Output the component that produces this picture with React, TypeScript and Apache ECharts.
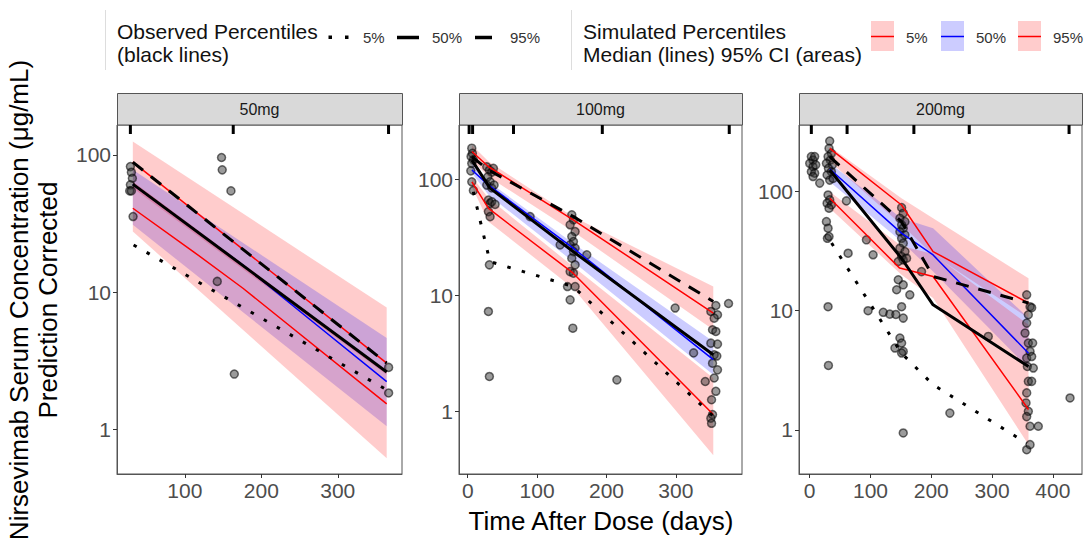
import React, { useEffect, useRef } from 'react';
import * as echarts from 'echarts';

type P = [number, number];
type B = [number, number, number]; // [time, lower, upper]

const panelNames = ['50mg', '100mg', '200mg'];
const xTickLabels: number[][] = [[100, 200, 300], [0, 100, 200, 300], [0, 100, 200, 300, 400]];
const yTickLabels = [1, 10, 100];

// ---------- 50 mg ----------
const obs50: P[] = [[28.8, 82.2], [30.1, 74.8], [31.4, 67.6], [28.8, 60.5], [27.9, 54.7], [30.1, 54.7], [32.3, 35.6],
  [148, 95.7], [148.9, 77.8], [160.3, 54.7], [142.4, 12.0], [164.7, 2.54], [366.5, 2.84], [366.5, 1.85]];
const obsP05_50: P[] = [[33, 22.1], [364, 1.95]];
const obsP50_50: P[] = [[32, 61.3], [364, 2.63]];
const obsP95_50: P[] = [[32, 88.5], [364, 3.05]];
const simP05_50: P[] = [[32, 40.9], [111, 19.8], [176, 10.7], [364, 1.54]];
const simP50_50: P[] = [[32, 61], [176, 15.8], [264, 6.31], [364, 2.24]];
const simP95_50: P[] = [[32, 88.5], [364, 3.05]];
const ci05_50: B[] = [[32, 27.7, 64], [364, 0.62, 2.66]];
const ci50_50: B[] = [[32, 31, 77.8], [364, 1.06, 4.65]];
const ci95_50: B[] = [[32, 57.3, 125], [364, 2.51, 7.74]];
const bins50 = [28.8, 163.3, 366.4];

// ---------- 100 mg ----------
const obs100: P[] = [
  [5.8, 185], [6.7, 167], [4.8, 157], [8.1, 147], [5.8, 137], [4.4, 118], [5.8, 95], [8.1, 80],
  [27.4, 128], [31.2, 120], [34.6, 115], [37, 124], [28.9, 105], [32.2, 95], [27.4, 89], [34.6, 84], [38, 89],
  [29.8, 66], [32.2, 62], [34.6, 64], [29.8, 52.6], [32.2, 47.6], [39.4, 60.7], [31.2, 18.3], [29.8, 7.26], [31.2, 2.0],
  [89.9, 47.6], [133.2, 27.2],
  [150, 49.3], [152.4, 44.7], [147.6, 40.5], [154.8, 35.4], [150, 32.1], [152.4, 29.0], [147.6, 27.2], [154.8, 25.5],
  [152.4, 23.8], [150, 20.9], [154.8, 18.3], [147.6, 16.0], [152.4, 15.5], [143.8, 11.9], [154.8, 11.9], [147.6, 9.14],
  [151.5, 5.21], [171.6, 22.3],
  [215, 1.87], [299, 7.77], [325.6, 3.19], [342.4, 1.81], [376, 8.5],
  [357.7, 8.17], [350.5, 7.26], [360.1, 6.79], [355.3, 6.36], [352.9, 5.05], [357.7, 4.88], [350.5, 3.87], [360.1, 3.8],
  [355.3, 3.07], [359.1, 3.0], [352.9, 2.6], [360.1, 2.28], [355.3, 1.94], [357.7, 1.49], [351.5, 1.26], [352.9, 0.94],
  [350.5, 0.875], [351.5, 0.79]];
const obsP05_100: P[] = [[8, 78], [32, 19.5], [152, 11.9], [354, 0.91]];
const obsP50_100: P[] = [[6, 146], [32, 83.7], [152, 23.8], [354, 3.08]];
const obsP95_100: P[] = [[6, 156], [30, 120], [152, 47.7], [354, 8.85]];
const simP05_100: P[] = [[6, 95], [30, 56], [152, 15.5], [354, 0.94]];
const simP50_100: P[] = [[6, 120], [30, 89], [152, 25.5], [354, 2.79]];
const simP95_100: P[] = [[6, 173], [30, 128], [152, 44.7], [354, 7.03]];
const ci05_100: B[] = [[6, 86, 105], [30, 43.1, 68.6], [152, 11.5, 17.7], [354, 0.42, 1.94]];
const ci50_100: B[] = [[6, 113, 137], [30, 73, 95], [152, 19.5, 28.1], [354, 2.07, 4.0]];
const ci95_100: B[] = [[6, 147, 197], [30, 105, 142], [152, 35.4, 47.6], [354, 5.05, 11.9]];
const bins100 = [2, 7, 66, 194, 377];

// ---------- 200 mg ----------
const obs200: P[] = [
  [2.7, 197], [5.5, 184], [8.2, 197], [0, 173], [5.5, 162], [9.9, 168], [2.7, 147], [8.2, 143], [5.5, 134], [16.5, 118],
  [32.9, 266], [31.8, 231], [35.7, 210], [30.2, 197], [34, 184], [27.5, 173], [37.3, 168], [30.8, 157], [35.7, 147],
  [28.6, 138], [32.9, 125], [38.4, 129], [30.2, 93.8], [32.9, 85.3], [28.6, 80], [35.7, 77.3], [31.8, 72.6], [27.5, 56],
  [30.2, 49.3], [29.1, 40.6], [31.8, 42], [30.2, 10.8], [30.8, 3.47],
  [60.4, 83.6], [63.2, 30.4], [93.3, 39.4], [104.3, 29.5], [96, 10], [121, 9.7], [131.8, 9.36], [141.7, 9.3], [153.9, 8.67],
  [151.2, 73.4], [153.9, 65.9], [148.4, 59.8], [156.7, 56], [151.2, 52.6], [153.9, 49.3], [148.4, 46.1], [156.7, 43.3],
  [151.2, 40.6], [153.9, 36.9], [148.4, 33.5], [156.7, 31.4], [151.2, 28.5], [153.9, 26.7], [145.7, 25.9], [159.4, 27.6],
  [145.7, 18.2], [143, 15.0], [153.9, 16.5], [164.7, 13.6], [151.2, 10.8], [148.4, 5.89], [140.2, 4.86], [151.2, 5.35],
  [153.9, 4.55], [151.2, 4.41], [153.9, 0.94],
  [184, 21.3], [230.6, 1.38], [293.8, 6.08], [428.3, 1.85],
  [357, 13.6], [362.5, 10.8], [365.2, 10.6], [359.7, 9.25], [357, 7.87], [354.3, 6.49], [359.7, 5.35], [366.8, 5.35],
  [362.5, 4.55], [357, 4.0], [365.2, 4.12], [358.1, 3.4], [367.9, 3.3], [359.7, 2.55], [365.2, 2.55], [357, 2.04],
  [355.9, 1.68], [359.7, 1.43], [357, 1.29], [362.5, 1.07], [376.1, 1.07], [357, 0.68], [362.5, 0.75]];
const obsP05_200: P[] = [[36, 37], [151, 4.4], [203, 2.39], [357, 0.77]];
const obsP50_200: P[] = [[33, 152], [151, 27.6], [203, 11.2], [360, 3.4]];
const obsP95_200: P[] = [[33, 197], [151, 56], [203, 19.4], [360, 11.6]];
const simP05_200: P[] = [[33, 88], [148, 22.8], [203, 19.4], [360, 1.48]];
const simP50_200: P[] = [[33, 155], [151, 44.8], [203, 29.4], [360, 4.4]];
const simP95_200: P[] = [[33, 231], [151, 77.3], [203, 31.4], [360, 11.6]];
const ci05_200: B[] = [[33, 72.6, 100], [151, 20, 35], [203, 12.8, 30], [360, 0.75, 7.62]];
const ci50_200: B[] = [[33, 121, 173], [151, 38.1, 59.8], [203, 21.3, 49.3], [360, 3.3, 8.67]];
const ci95_200: B[] = [[33, 179, 239], [151, 52.6, 88], [203, 29.5, 59.8], [360, 8.67, 18.7]];
const bins200 = [2.7, 61.5, 171.4, 262.5, 426.7];

const panels = [
  { obs: obs50, p05: obsP05_50, p50: obsP50_50, p95: obsP95_50, s05: simP05_50, s50: simP50_50, s95: simP95_50, c05: ci05_50, c50: ci50_50, c95: ci95_50, bins: bins50 },
  { obs: obs100, p05: obsP05_100, p50: obsP50_100, p95: obsP95_100, s05: simP05_100, s50: simP50_100, s95: simP95_100, c05: ci05_100, c50: ci50_100, c95: ci95_100, bins: bins100 },
  { obs: obs200, p05: obsP05_200, p50: obsP50_200, p95: obsP95_200, s05: simP05_200, s50: simP50_200, s95: simP95_200, c05: ci05_200, c50: ci50_200, c95: ci95_200, bins: bins200 },
];

// layout
const gridLeft = [117, 459, 799];
const gridWidth = [285, 283, 283];
const gridTop = 125;
const gridHeight = 349;
const xMin = [11.3, -12.6, -17.6];
const xMax = [384, 395.4, 448];
const yMin = [0.476, 0.289, 0.425];
const yMax = [165, 293, 363];

const FONT = 'Liberation Sans, Arial, Helvetica, sans-serif';
const RED = '#ff0000';
const BLUE = '#0000ff';
const PINK_FILL = 'rgba(255,0,0,0.2)';
const BLUE_FILL = 'rgba(0,0,255,0.2)';

function bandSeries(i: number, band: B[], fill: string) {
  return {
    type: 'custom',
    xAxisIndex: i,
    yAxisIndex: i,
    silent: true,
    z: 1,
    data: band,
    encode: { x: 0, y: [1, 2] },
    renderItem: (params: any, api: any) => {
      if (params.dataIndex !== 0) return null;
      const up = band.map((d) => api.coord([d[0], d[2]]));
      const lo = band.map((d) => api.coord([d[0], d[1]])).reverse();
      return { type: 'polygon', shape: { points: up.concat(lo) }, style: { fill } };
    },
  };
}

function lineSeries(i: number, data: P[], color: string, width: number, type: any, z: number) {
  return {
    type: 'line',
    xAxisIndex: i,
    yAxisIndex: i,
    data,
    symbol: 'none',
    silent: true,
    z,
    lineStyle: { color, width, type, cap: 'butt' },
  };
}

export default function App() {
  const ref = useRef<HTMLDivElement>(null);
  useEffect(() => {
    if (!ref.current) return;
    const chart = echarts.init(ref.current, undefined, { renderer: 'svg' });

    const grids: any[] = [];
    const xAxes: any[] = [];
    const yAxes: any[] = [];
    const series: any[] = [];
    const graphics: any[] = [];

    panels.forEach((p, i) => {
      grids.push({
        left: gridLeft[i], top: gridTop, width: gridWidth[i], height: gridHeight,
        show: true, borderColor: '#555', borderWidth: 1, backgroundColor: '#fff', containLabel: false,
      });
      xAxes.push({
        type: 'value', gridIndex: i, min: xMin[i], max: xMax[i],
        splitLine: { show: false },
        axisLine: { show: true, onZero: false, lineStyle: { color: '#555', width: 1 } },
        axisTick: { show: true, length: 4, lineStyle: { color: '#333', width: 1 }, customValues: xTickLabels[i] },
        axisLabel: { customValues: xTickLabels[i], fontSize: 21, color: '#4d4d4d', margin: 6, fontFamily: FONT },
      });
      yAxes.push({
        type: 'log', logBase: 10, gridIndex: i, min: yMin[i], max: yMax[i],
        splitLine: { show: false },
        minorTick: { show: false },
        axisLine: { show: true, onZero: false, lineStyle: { color: '#555', width: 1 } },
        axisTick: { show: true, length: 4, lineStyle: { color: '#333', width: 1 }, customValues: yTickLabels },
        axisLabel: {
          customValues: yTickLabels, fontSize: 21, color: '#4d4d4d', margin: 6, fontFamily: FONT,
          formatter: (v: number) => String(Math.round(v)),
        },
      });

      series.push(bandSeries(i, p.c95, PINK_FILL));
      series.push(bandSeries(i, p.c50, BLUE_FILL));
      series.push(bandSeries(i, p.c05, PINK_FILL));

      series.push({
        type: 'scatter', xAxisIndex: i, yAxisIndex: i, data: p.obs, symbolSize: 8, silent: true, z: 2,
        itemStyle: { color: 'rgba(45,45,45,0.6)', borderColor: 'rgba(0,0,0,0.7)', borderWidth: 1.5 },
      });

      series.push(lineSeries(i, p.s05, RED, 1.5, 'solid', 3));
      series.push(lineSeries(i, p.s50, BLUE, 1.5, 'solid', 3));
      series.push(lineSeries(i, p.s95, RED, 1.5, 'solid', 3));

      series.push(lineSeries(i, p.p05, '#000', 3, [3.5, 11.5], 4));
      series.push(lineSeries(i, p.p50, '#000', 3, 'solid', 4));
      series.push(lineSeries(i, p.p95, '#000', 3, [13, 10], 4));

      series.push({
        type: 'custom', xAxisIndex: i, yAxisIndex: i, silent: true, z: 5,
        data: p.bins.map((t) => [t, 1]),
        encode: { x: 0, y: 1 },
        renderItem: (params: any, api: any) => {
          const pt = api.coord([api.value(0), 1]);
          const cs = params.coordSys;
          return { type: 'rect', shape: { x: pt[0] - 1.5, y: cs.y, width: 3, height: 9 }, style: { fill: '#000' } };
        },
      });

      // strip
      graphics.push({
        type: 'rect', silent: true,
        shape: { x: gridLeft[i] + 0.5, y: 93.5, width: gridWidth[i], height: 31.5 },
        style: { fill: '#d9d9d9', stroke: '#555', lineWidth: 1 },
      });
      graphics.push({
        type: 'text', silent: true, x: gridLeft[i] + gridWidth[i] / 2, y: 109.5,
        style: { text: panelNames[i], fontSize: 16, fontFamily: FONT, fill: '#1a1a1a', align: 'center', verticalAlign: 'middle' },
      });
    });

    // legend
    const legendText = (text: string, x: number, y: number, size: number, fill: string) => ({
      type: 'text', silent: true, x, y,
      style: { text, fontSize: size, fontFamily: FONT, fill, align: 'left', verticalAlign: 'middle' },
    });
    graphics.push({ type: 'line', silent: true, shape: { x1: 105.5, y1: 10, x2: 105.5, y2: 70 }, style: { stroke: '#ddd', lineWidth: 1 } });
    graphics.push({ type: 'line', silent: true, shape: { x1: 571.5, y1: 10, x2: 571.5, y2: 70 }, style: { stroke: '#ddd', lineWidth: 1 } });
    graphics.push(legendText('Observed Percentiles', 117, 31, 21, '#111'));
    graphics.push(legendText('(black lines)', 117, 54, 21, '#111'));
    graphics.push({ type: 'rect', silent: true, shape: { x: 328.5, y: 35.5, width: 3.5, height: 3.5 }, style: { fill: '#000' } });
    graphics.push({ type: 'rect', silent: true, shape: { x: 345, y: 35.5, width: 3.5, height: 3.5 }, style: { fill: '#000' } });
    graphics.push(legendText('5%', 363, 37.5, 15, '#333'));
    graphics.push({ type: 'line', silent: true, shape: { x1: 397, y1: 37.5, x2: 419, y2: 37.5 }, style: { stroke: '#000', lineWidth: 3.5 } });
    graphics.push(legendText('50%', 432, 37.5, 15, '#333'));
    graphics.push({ type: 'line', silent: true, shape: { x1: 475, y1: 37.5, x2: 492, y2: 37.5 }, style: { stroke: '#000', lineWidth: 3.5 } });
    graphics.push(legendText('95%', 510, 37.5, 15, '#333'));

    graphics.push(legendText('Simulated Percentiles', 583, 31, 21, '#111'));
    graphics.push(legendText('Median (lines) 95% CI (areas)', 583, 54, 21, '#111'));
    const simKeys: [number, string, string, string][] = [
      [871, PINK_FILL, RED, '5%'], [941, BLUE_FILL, BLUE, '50%'], [1018, PINK_FILL, RED, '95%'],
    ];
    simKeys.forEach(([x, fill, stroke, label]) => {
      graphics.push({ type: 'rect', silent: true, shape: { x, y: 21, width: 23, height: 30 }, style: { fill } });
      graphics.push({ type: 'line', silent: true, shape: { x1: x, y1: 36.5, x2: x + 23, y2: 36.5 }, style: { stroke, lineWidth: 1.5 } });
      graphics.push(legendText(label, x + 35, 37.5, 15, '#333'));
    });

    // axis titles
    graphics.push({
      type: 'text', silent: true, x: 601, y: 521,
      style: { text: 'Time After Dose (days)', fontSize: 26, fontFamily: FONT, fill: '#000', align: 'center', verticalAlign: 'middle' },
    });
    graphics.push({
      type: 'text', silent: true, x: 33, y: 300, rotation: Math.PI / 2,
      style: {
        text: 'Nirsevimab Serum Concentration (μg/mL)\nPrediction Corrected',
        fontSize: 26, lineHeight: 29, fontFamily: FONT, fill: '#000', align: 'center', verticalAlign: 'middle',
      },
    });

    chart.setOption({
      animation: false,
      backgroundColor: '#fff',
      textStyle: { fontFamily: FONT },
      grid: grids,
      xAxis: xAxes,
      yAxis: yAxes,
      series,
      graphic: { elements: graphics },
    });

    return () => chart.dispose();
  }, []);

  return <div ref={ref} style={{ position: 'fixed', left: 0, top: 0, width: 1085, height: 541, background: '#fff' }} />;
}
